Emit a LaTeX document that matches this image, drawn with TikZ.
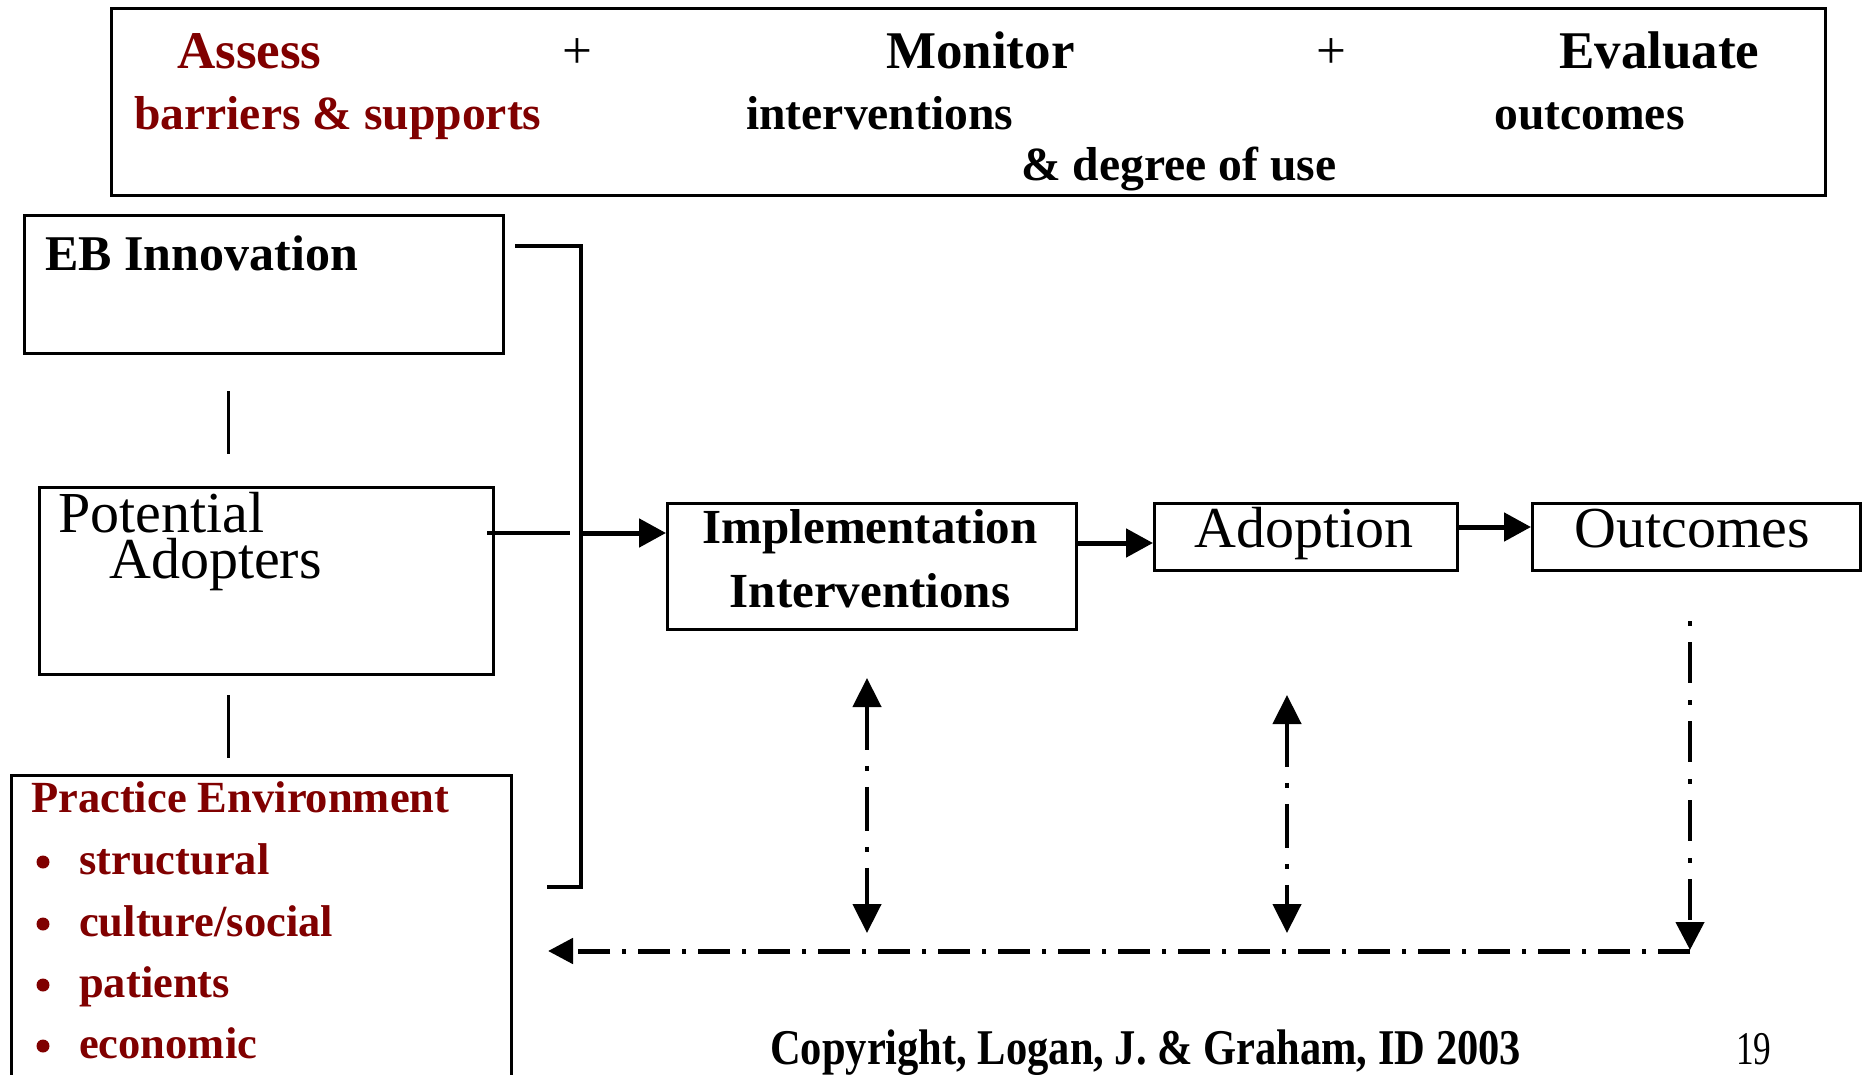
\documentclass[tikz,border=0pt]{standalone}
\usepackage{fontspec}
\setmainfont{Liberation Serif}
\usetikzlibrary{arrows.meta}
\definecolor{envred}{RGB}{128,0,0}

\tikzset{
  frame/.style={draw, line width=2.8pt, inner sep=0pt, anchor=north west},
  lbl/.style={inner sep=0pt, anchor=base west},
  clbl/.style={inner sep=0pt, anchor=base},
  headfont/.style={font=\fontsize{53}{60}\selectfont\bfseries},
  subfont/.style={font=\fontsize{47.6}{54}\selectfont\bfseries},
  plusfont/.style={font=\fontsize{53}{60}\selectfont},
  boldbox/.style={font=\fontsize{49}{56}\selectfont\bfseries},
  plainbox/.style={font=\fontsize{58}{64}\selectfont},
  envfont/.style={font=\fontsize{44.5}{50}\selectfont\bfseries, text=envred},
  bulletdot/.style={circle, fill=envred, inner sep=0pt, minimum size=13pt},
  thinlink/.style={line width=3pt},
  bracket/.style={line width=4pt},
  flow/.style={line width=5pt, -{Triangle[length=27pt,width=28pt]}},
  feedback/.style={line width=4.5pt, dash pattern=on 44pt off 16pt on 5pt off 16pt,
    {Triangle[length=29pt,width=28pt]}-{Triangle[length=29pt,width=28pt]}},
  outdown/.style={line width=4.5pt, dash pattern=on 5pt off 16pt on 41pt off 17pt,
    -{Triangle[length=28pt,width=28pt]}},
  backline/.style={line width=5pt, dash pattern=on 32pt off 12pt on 4pt off 12pt,
    -{Triangle[length=25pt,width=25pt]}}
}

\begin{document}
\begin{tikzpicture}[x=1pt,y=-1pt]
\useasboundingbox (0,0) rectangle (1864,1075);
\clip (0,0) rectangle (1864,1075);

% ---- top banner: assess + monitor + evaluate ----
\node[frame, minimum width=1714pt, minimum height=187pt] (banner) at (110,7) {};
\node[lbl, headfont, text=envred] (assess) at (177,69) {Assess};
\node[clbl, plusfont] (plusA) at (577,69) {+};
\node[lbl, headfont] (monitor) at (886,69) {Monitor};
\node[clbl, plusfont] (plusB) at (1331,69) {+};
\node[lbl, headfont] (evaluate) at (1559,69) {Evaluate};
\node[lbl, subfont, text=envred] (barriers) at (134,130) {barriers \& supports};
\node[lbl, subfont] (interv) at (746,130) {interventions};
\node[lbl, subfont] (outc) at (1494,130) {outcomes};
\node[lbl, subfont] (degree) at (1021,181) {\& degree of use};

% ---- left column of boxes ----
\node[frame, minimum width=479pt, minimum height=138pt] (eb) at (23,214) {};
\node[lbl, font=\fontsize{50}{56}\selectfont\bfseries] (ebtext) at (45,271) {EB Innovation};

\node[frame, minimum width=454pt, minimum height=187pt] (pa) at (38,486) {};
\node[lbl, plainbox] (patext1) at (58,532) {Potential};
\node[lbl, plainbox] (patext2) at (109,578) {Adopters};

\node[frame, minimum width=500pt, minimum height=330pt] (pe) at (10,774) {};
\node[lbl, envfont] (petitle) at (31,812) {Practice Environment};
\node[bulletdot] (d1) at (43,862) {};
\node[bulletdot] (d2) at (43,924) {};
\node[bulletdot] (d3) at (43,985) {};
\node[bulletdot] (d4) at (43,1046) {};
\node[lbl, envfont] (pe1) at (79,874) {structural};
\node[lbl, envfont] (pe2) at (79,936) {culture/social};
\node[lbl, envfont] (pe3) at (79,997) {patients};
\node[lbl, envfont] (pe4) at (79,1058) {economic};

% short links between the left boxes
\coordinate (l1a) at (228,391);
\coordinate (l1b) at (228,454);
\coordinate (l2a) at (228,695);
\coordinate (l2b) at (228,758);
\draw[thinlink] (l1a) -- (l1b);
\draw[thinlink] (l2a) -- (l2b);

% ---- main flow ----
\node[frame, minimum width=409pt, minimum height=126pt] (impl) at (666,502) {};
\node[clbl, boldbox] (impl1) at (870,543) {Implementation};
\node[clbl, boldbox] (impl2) at (870,607) {Interventions};

\node[frame, minimum width=303pt, minimum height=67pt] (adopt) at (1153,502) {};
\node[clbl, plainbox] (adopttext) at (1304,547) {Adoption};

\node[frame, minimum width=328pt, minimum height=67pt] (outcome) at (1531,502) {};
\node[clbl, plainbox] (outtext) at (1692,547) {Outcomes};

% bracket gathering the three left boxes
\coordinate (brTop) at (515,246);
\coordinate (brBot) at (547,887);
\coordinate (brX) at (581,0);
\draw[bracket] (brTop) -- (brTop -| brX) -- (brBot -| brX) -- (brBot);

% link from potential adopters and arrow into implementation
\coordinate (paOut) at (487,533);
\coordinate (paEnd) at (570,533);
\coordinate (joinPt) at (579,533);
\draw[line width=4pt] (paOut) -- (paEnd);
\draw[flow] (joinPt) -- (joinPt -| impl.west);

\coordinate (f1) at (1077,543);
\draw[flow] (f1) -- (f1 -| adopt.west);
\coordinate (f2) at (1458,527);
\draw[flow] (f2) -- (f2 -| outcome.west);

% ---- feedback loop (dash-dot) ----
\coordinate (v1top) at (867,678);
\coordinate (v1bot) at (867,933);
\coordinate (v2top) at (1287,695);
\coordinate (v2bot) at (1287,933);
\coordinate (v3top) at (1690,621);
\coordinate (v3bot) at (1690,950);
\coordinate (hEnd) at (548,951);
\draw[feedback] (v1top) -- (v1bot);
\draw[feedback] (v2top) -- (v2bot);
\draw[outdown] (v3top) -- (v3bot);
\draw[backline] (v3bot |- hEnd) -- (hEnd);

% ---- footer ----
\node[lbl, font=\fontsize{50}{56}\selectfont\bfseries] (copyright) at (770,1064)
  {\scalebox{0.85}[1]{Copyright, Logan, J. \& Graham, ID 2003}};
\node[lbl, font=\fontsize{47}{52}\selectfont] (pagenum) at (1736,1064)
  {\scalebox{0.75}[1]{19}};
\end{tikzpicture}
\end{document}
